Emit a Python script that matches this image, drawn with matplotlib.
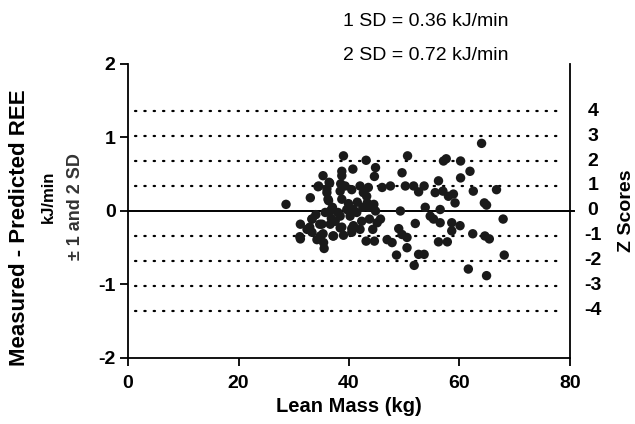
import matplotlib.pyplot as plt
from matplotlib.transforms import blended_transform_factory

plt.rcParams["font.family"] = ["Liberation Sans", "DejaVu Sans"]
plt.rcParams["axes.unicode_minus"] = False

lean_mass = [
    28.6, 33.0, 35.3, 34.5, 36.5, 36.0, 36.3, 35.7, 36.6, 33.3,
    31.2, 32.4, 33.3, 31.2, 34.2, 35.1, 35.4, 35.5, 34.8, 37.2,
    37.5, 38.4, 38.4, 39.0, 38.7, 38.7, 40.7, 38.4, 38.7, 39.3,
    40.5, 39.6, 40.8, 40.2, 40.8, 40.5, 41.4, 42.3, 42.0, 42.6,
    43.2, 43.1, 43.5, 43.3, 43.5, 44.5, 44.8, 43.7, 44.3, 43.1,
    44.6, 44.8, 44.6, 46.0, 47.5, 45.7, 45.1, 46.9, 47.8, 48.6,
    49.0, 49.3, 49.6, 50.5, 49.6, 50.6, 50.2, 51.7, 52.6, 53.6,
    50.5, 52.0, 51.8, 52.6, 53.6, 53.8, 54.7, 55.3, 55.6, 56.2,
    56.5, 56.5, 57.1, 57.6, 57.0, 58.0, 58.9, 59.2, 56.2, 57.8,
    58.6, 58.6, 60.1, 60.2, 60.2, 61.9, 62.5, 61.6, 62.4, 64.0,
    64.5, 64.9, 64.6, 65.4, 64.9, 66.7, 67.9, 68.1, 36.0, 37.0,
    39.9, 41.5, 42.5, 38.0, 36.8, 34.0, 42.0, 39.0, 36.4, 34.4,
    38.5, 36.2, 33.3, 32.9, 31.1, 34.7, 35.3, 37.1, 36.6, 38.7,
    40.5,
]
ree_diff = [
    0.09, 0.18, 0.48, 0.34, 0.38, 0.25, 0.14, -0.02, 0.00, -0.11,
    -0.18, -0.25, -0.29, -0.38, -0.39, -0.18, -0.43, -0.51, -0.34, -0.34,
    -0.14, -0.23, -0.07, 0.75, 0.54, 0.48, 0.57, 0.27, 0.16, 0.34,
    0.29, 0.02, 0.02, -0.07, -0.20, -0.29, -0.02, -0.14, 0.34, 0.25,
    0.20, 0.69, 0.32, 0.11, 0.05, 0.09, 0.00, -0.11, -0.25, -0.41,
    -0.41, 0.59, 0.47, 0.32, 0.34, -0.11, -0.16, -0.39, -0.43, -0.60,
    -0.24, 0.00, -0.32, -0.36, 0.52, 0.75, 0.34, 0.34, 0.26, 0.34,
    -0.50, -0.17, -0.74, -0.59, -0.59, 0.05, -0.07, -0.11, 0.25, 0.41,
    0.02, -0.16, 0.68, 0.71, 0.27, 0.20, 0.23, 0.11, -0.42, -0.42,
    -0.16, -0.27, -0.20, 0.68, 0.45, 0.54, 0.27, -0.79, -0.31, 0.92,
    0.11, 0.08, -0.34, -0.38, -0.88, 0.29, -0.11, -0.60, 0.30, 0.05,
    0.10, 0.12, 0.05, -0.02, -0.10, -0.05, -0.25, -0.33, 0.39, 0.33,
    0.37, 0.16, -0.11, -0.22, -0.35, -0.18, -0.31, -0.34, -0.18, -0.22,
    -0.24,
]

z_scores = [4, 3, 2, 1, 0, -1, -2, -3, -4]
z_lines = [1.36, 1.02, 0.68, 0.34, 0.0, -0.34, -0.68, -1.02, -1.36]
x_ticks = [0, 20, 40, 60, 80]
y_ticks = [-2, -1, 0, 1, 2]

fig = plt.figure(figsize=(6.35, 4.24), dpi=100)
ax = fig.add_axes([0.2016, 0.1557, 0.696, 0.6934])

for z, yv in zip(z_scores, z_lines):
    if z == 0:
        ax.plot([0, 80.8], [yv, yv], color="black", lw=1.4, clip_on=False, zorder=2)
    else:
        ax.plot([1.2, 78.8], [yv, yv], color="black", lw=1.6,
                linestyle=(0, (0.6, 3.6)), dash_capstyle="round", zorder=1)

ax.scatter(lean_mass, ree_diff, s=46, color="#1a1a1a", edgecolors="none", zorder=3)

ax.set_xlim(0, 80)
ax.set_ylim(-2, 2)
ax.set_xticks(x_ticks)
ax.set_yticks(y_ticks)
ax.spines["top"].set_visible(False)
for sp in ["left", "bottom", "right"]:
    ax.spines[sp].set_linewidth(1.3)
ax.tick_params(direction="out", length=6, width=1.3, labelsize=14)
ax.tick_params(axis="x", pad=6)
ax.tick_params(axis="y", pad=3)
for lab in ax.get_xticklabels() + ax.get_yticklabels():
    lab.set_fontweight("bold")

tr = blended_transform_factory(ax.transAxes, ax.transData)
for z, yv in zip(z_scores, z_lines):
    ax.text(1.052, yv, str(z), transform=tr, ha="center", va="center",
            fontsize=14, fontweight="bold")
ax.text(1.129, 0.0, "Z Scores", transform=tr, ha="center", va="center",
        rotation=90, fontsize=14, fontweight="bold")

ax.set_xlabel("Lean Mass (kg)", fontsize=14.5, fontweight="bold", labelpad=4)

fig.text(20 / 635, 1 - 228 / 424, "Measured - Predicted REE", rotation=90,
         ha="center", va="center", fontsize=16, fontweight="bold")
fig.text(48 / 635, 1 - 197 / 424, "kJ/min", rotation=90,
         ha="center", va="center", fontsize=12, fontweight="bold")
fig.text(76 / 635, 1 - 207 / 424, "\u00b1 1 and 2 SD", rotation=90,
         ha="center", va="center", fontsize=13, fontweight="bold", color="#333333")

fig.text(426 / 635, 1 - 22 / 424, "1 SD = 0.36 kJ/min", ha="center", va="center",
         fontsize=14)
fig.text(426 / 635, 1 - 55 / 424, "2 SD = 0.72 kJ/min", ha="center", va="center",
         fontsize=14)

fig.savefig("out.png", dpi=100)
